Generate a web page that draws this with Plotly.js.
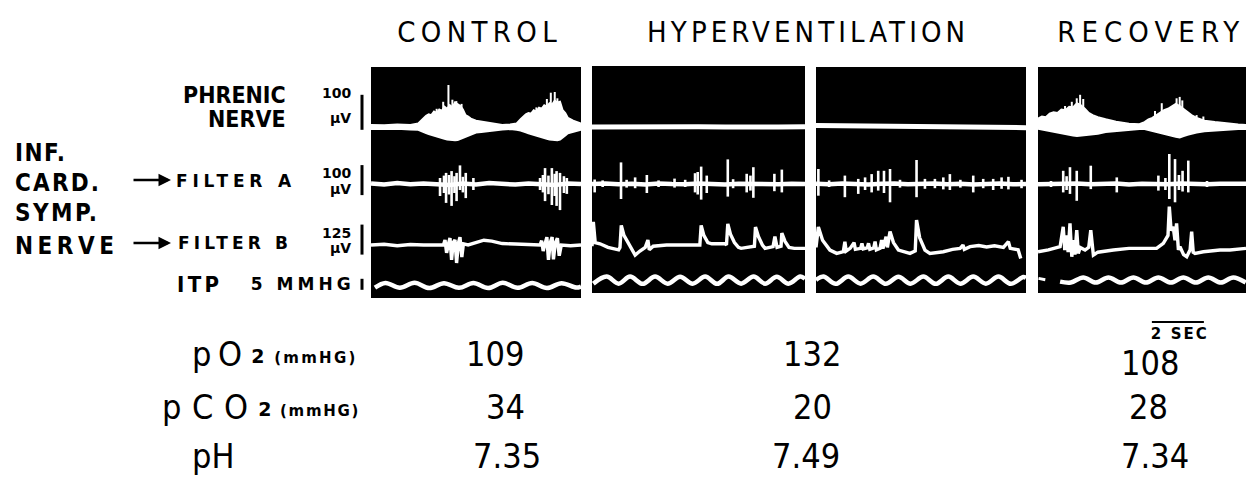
<!DOCTYPE html>
<html><head><meta charset="utf-8">
<script src="https://cdn.plot.ly/plotly-3.0.1.min.js"></script>
<style>html,body{margin:0;padding:0;background:#fff}#chart{width:1249px;height:487px}</style>
</head><body><div id="chart"></div>
<script>
// ---------------- DATA ----------------
// time in seconds within each panel (0..8 s), amplitude in µV (nerves) or mmHg (ITP)
const conditions = ['CONTROL', 'HYPERVENTILATION', 'RECOVERY'];
const channelLabels = ['PHRENIC', 'NERVE', 'INF.', 'CARD.', 'SYMP.', 'NERVE', 'FILTER A', 'FILTER B', 'ITP'];
const scaleLabels = ['100', 'µV', '100', 'µV', '125', 'µV', '5 MMHG'];
const scaleValues = [100, 100, 125, 5];   // µV, µV, µV, mmHg
const timeBarSec = 2;
const timeBarLabel = '2 SEC';
const gasRows = ['pO', 'pCO', 'pH'];
const gasSub = '2';
const gasUnit = '(mmHG)';
const pO2 = ['109', '132', '108'];
const pCO2 = ['34', '20', '28'];
const pH = ['7.35', '7.49', '7.34'];

// Phrenic nerve envelopes (upper / lower) – control
const phrCtrlT  = [0,0.5,1.0,1.5,1.8,1.9,2.0,2.1,2.2,2.3,2.4,2.5,2.6,2.7,2.8,2.9,3.0,3.1,3.2,3.3,3.4,3.5,3.6,3.7,3.8,4.0,4.2,4.4,4.7,5.0,5.3,5.55,5.7,5.8,5.9,6.0,6.1,6.2,6.3,6.4,6.5,6.6,6.7,6.8,6.9,7.0,7.1,7.2,7.3,7.4,7.5,7.7,7.9,8.0];
const phrCtrlUp = [6,5,7,6,10,18,26,32,36,34,44,40,50,46,58,52,62,56,70,64,60,50,34,30,24,18,16,14,9,6,7,10,22,30,36,40,38,48,44,55,52,62,58,68,64,75,70,72,48,40,26,18,14,10];
const phrCtrlLo = [-6,-6,-5,-7,-8,-11,-14,-17,-20,-23,-26,-28,-30,-32,-34,-36,-37,-38,-38,-37,-36,-32,-28,-25,-22,-16,-14,-12,-9,-7,-6,-8,-10,-12,-15,-18,-21,-24,-26,-28,-30,-32,-34,-36,-37,-38,-38,-36,-30,-24,-18,-14,-10,-8];
const phrCtrlSpkT = [2.5,2.75,2.95,3.1,3.25,3.45,6.3,6.7,6.85,7.0,7.1];
const phrCtrlSpkV = [52,72,120,78,74,66,56,80,98,100,82];
// Phrenic – hyperventilation (flat)
const phrHypT  = [0,1,2,3,4,5,6,7,8];
const phrHyp1V = [0,1,-1,0,1,0,-1,0,1];
const phrHyp2V = [4,3,3,2,1,0,-1,-2,-2];
// Phrenic – recovery
const phrRecT  = [0,0.15,0.3,0.45,0.6,0.75,0.9,1.05,1.2,1.35,1.5,1.65,1.8,1.95,2.1,2.3,2.6,3.0,3.5,3.9,4.1,4.25,4.4,4.55,4.7,4.85,5.0,5.15,5.3,5.45,5.6,5.75,5.9,6.1,6.4,6.8,7.3,7.7,8.0];
const phrRecUp = [24,30,28,38,42,40,50,48,58,56,68,62,52,40,34,28,22,15,9,8,14,22,26,34,40,48,52,58,66,60,52,44,34,26,18,14,9,7,6];
const phrRecLo = [-5,-8,-11,-13,-15,-17,-19,-20,-22,-24,-26,-25,-24,-22,-21,-19,-14,-11,-8,-6,-6,-8,-10,-13,-16,-19,-22,-25,-28,-30,-26,-22,-19,-16,-12,-10,-8,-6,-6];
const phrRecSpkT = [1.04,1.3,1.49,1.62,1.74,4.5,4.76,5.33,5.45,5.55,6.1,6.36];
const phrRecSpkV = [60,72,82,92,80,46,68,82,86,76,34,30];

// Filter A: baseline + spikes (up / down extents)
const faBaseT = [0,0.5,1,1.5,2,2.5,3,3.5,4,4.5,5,5.5,6,6.5,7,7.5,8];
const faBaseCtrl = [2,-2,3,-1,2,0,-3,2,-2,3,0,-2,2,0,-3,2,0];
const faBaseHyp1 = [0,2,-1,1,-2,2,0,-1,2,0,-2,1,0,2,-1,1,0];
const faBaseHyp2 = [1,-1,2,0,-2,1,2,-1,0,2,-1,1,-2,0,2,-1,0];
const faBaseRec  = [-1,1,0,2,-1,0,2,-2,1,0,-1,2,0,-1,1,0,1];
const faCtrlT  = [2.63,2.78,2.86,2.97,3.07,3.18,3.26,3.39,3.5,3.61,3.9,6.44,6.55,6.63,6.76,6.89,7.0,7.07,7.2,7.35,7.46];
const faCtrlUp = [20,28,37,30,43,26,37,62,24,37,20,20,30,53,28,53,34,43,37,26,20];
const faCtrlDn = [-40,-30,-63,-35,-73,-30,-57,-20,-28,-47,-20,-20,-28,-57,-34,-70,-40,-73,-87,-30,-33];
const faHyp1T  = [0.1,0.4,1.09,1.3,1.62,2.06,2.5,3.1,3.5,3.87,3.97,4.1,4.31,5.1,5.3,5.81,5.95,6.06,6.85,7.13];
const faHyp1Up = [15,12,72,14,22,30,12,18,14,36,40,58,28,82,16,34,28,56,34,48];
const faHyp1Dn = [-28,-10,-50,-12,-14,-30,-10,-12,-10,-28,-35,-52,-30,-42,-14,-28,-22,-46,-24,-28];
const faHyp2T  = [0.09,0.5,1.1,1.61,1.87,2.12,2.37,2.59,2.82,3.2,3.83,4.15,4.53,4.85,5.1,5.5,5.99,6.37,6.75,7.07,7.33,7.83];
const faHyp2Up = [50,12,28,17,22,33,44,44,50,14,80,17,17,22,33,14,28,17,17,22,24,14];
const faHyp2Dn = [-39,-10,-44,-33,-20,-28,-22,-30,-61,-12,-44,-16,-14,-18,-20,-12,-28,-14,-20,-16,-18,-14];
const faRecT  = [0.5,0.97,1.1,1.23,1.49,2.03,3.03,4.63,4.9,5.05,5.27,5.42,5.56,5.78,6.5];
const faRecUp = [10,44,26,56,44,61,22,28,20,100,83,30,44,78,10];
const faRecDn = [-10,-28,-20,-33,-56,-17,-28,-22,-20,-50,-61,-20,-25,-28,-10];

// Filter B: traced polylines
const fbCtrlT = [0,0.5,1.0,1.5,2.0,2.5,2.76,2.82,2.88,2.95,3.01,3.07,3.13,3.2,3.26,3.33,3.39,3.46,3.52,3.7,4.0,4.3,4.6,5.0,5.5,6.0,6.44,6.5,6.56,6.63,6.7,6.76,6.83,6.9,6.95,7.02,7.1,7.17,7.25,7.6,8.0];
const fbCtrlV = [0,3,-3,2,0,2,0,21,-33,5,29,-62,10,21,-75,8,33,-50,5,0,10,20,16,6,4,2,0,18,-25,5,33,-62,10,33,-60,8,28,-45,0,-3,0];
const fbHyp1T = [0,0.05,0.12,0.3,0.6,1.0,1.05,1.1,1.2,1.35,1.5,1.62,1.8,2.0,2.1,2.15,2.3,2.8,3.3,3.8,4.05,4.1,4.2,4.35,4.5,5.0,5.05,5.1,5.2,5.35,5.5,5.6,5.9,6.1,6.14,6.25,6.4,6.5,6.8,6.87,6.95,7.1,7.13,7.25,7.4,7.6,8.0];
const fbHyp1V = [-5,96,10,5,-10,-20,-10,82,40,10,-25,-42,-25,-10,21,-20,-5,0,0,2,0,82,40,10,5,5,0,88,45,10,-10,-14,-7,-5,75,35,0,-14,-7,35,-10,-5,50,15,-10,-14,-14];
const fbHyp2T = [0,0.05,0.09,0.25,0.53,0.79,1.04,1.1,1.15,1.3,1.45,1.5,1.7,1.75,1.8,1.95,2.0,2.05,2.2,2.25,2.3,2.44,2.5,2.55,2.67,2.72,2.82,2.95,3.14,3.58,3.78,3.83,3.95,4.15,4.34,4.85,5.2,5.49,5.6,5.65,5.87,6.2,6.5,6.8,7.14,7.33,7.4,7.7,7.77,7.8];
const fbHyp2V = [-10,40,75,20,-21,-35,-28,14,-25,-14,10,-18,-14,7,-16,-12,7,-18,-12,14,-20,-14,21,-15,35,-10,56,10,-21,-35,-25,104,30,-21,-35,-28,-18,-14,0,-18,-7,-2,-8,-3,-10,14,-14,-20,-56,-56];
const fbRecT = [0,0.4,0.85,0.97,1.03,1.1,1.16,1.23,1.3,1.36,1.42,1.49,1.55,1.62,1.81,1.95,2.03,2.13,2.3,2.51,2.9,3.5,4.0,4.56,4.82,5.0,5.05,5.12,5.2,5.27,5.33,5.4,5.46,5.6,5.72,5.85,5.91,5.97,6.04,6.36,7.0,7.38,8.0];
const fbRecV = [-28,-20,-7,76,-21,40,-30,90,-49,20,-40,62,-35,-10,-21,-10,62,-42,-30,-28,-21,-14,-14,-14,7,40,160,60,76,20,90,-20,-7,-40,-49,-20,56,-30,-35,-28,-21,-21,-14];

// Intrathoracic pressure (mmHg): peaks and troughs
const itpCtrlT = [0.15,0.55,1.1,1.66,2.22,2.78,3.35,3.9,4.46,5.02,5.58,6.14,6.7,7.26,7.82,8.0];
const itpCtrlV = [-3.0,-0.9,-3.1,-0.8,-3.2,-1.0,-3.1,-0.9,-3.2,-0.8,-3.1,-0.9,-3.2,-1.0,-3.0,-2.5];
const itpHyp1T = [0.05,0.55,1.0,1.43,1.9,2.37,2.84,3.31,3.78,4.25,4.7,5.13,5.6,6.07,6.5,6.94,7.38,7.82,8.0];
const itpHyp1V = [-1.2,2.0,-1.2,2.0,-1.3,2.0,-1.2,1.9,-1.2,2.0,-1.3,2.0,-1.2,2.0,-1.2,1.9,-1.2,2.0,1.0];
const itpHyp2T = [0.0,0.28,0.75,1.23,1.7,2.18,2.66,3.14,3.6,4.09,4.56,5.04,5.5,5.99,6.47,6.95,7.42,7.9,8.0];
const itpHyp2V = [0.5,2.0,-1.3,2.0,-1.2,2.0,-1.3,1.9,-1.2,2.0,-1.3,2.0,-1.2,2.0,-1.2,2.0,-1.3,1.8,1.5];
const itpRecDashT = [0.02,0.28];
const itpRecDashV = [1.2,0.6];
const itpRecT = [0.85,1.26,1.74,2.22,2.71,3.19,3.67,4.15,4.63,5.11,5.59,6.07,6.55,7.03,7.51,7.99];
const itpRecV = [-0.3,-0.7,1.6,-0.7,1.6,-0.7,1.6,-0.7,1.6,-0.7,1.6,-0.7,1.6,-0.7,1.6,-0.7];

// ---------------- LAYOUT GEOMETRY (pixels) ----------------
const W = 1249, H = 487;
const px = v => v / W, py = v => 1 - v / H;
const panels = [
  {x0:371, x1:581, y0:67, y1:298},
  {x0:592, x1:805, y0:66, y1:293},
  {x0:816, x1:1026, y0:67, y1:293},
  {x0:1038, x1:1246, y0:67, y1:293}
];
const channels = [
  {top:55, bottom:165, base:127, s:0.35},
  {top:140, bottom:225, base:184, s:0.30},
  {top:195, bottom:275, base:245, s:0.24},
  {top:262, bottom:298, base:281, s:2.2}
];
const xa = p => p === 0 ? 'x' : 'x' + (p + 1);
const ya = c => c === 0 ? 'y' : 'y' + (c + 1);
const WHITE = '#ffffff';

const traces = [];
function line(p, c, x, y, w, shape) {
  traces.push({x, y, xaxis: xa(p), yaxis: ya(c), type:'scatter', mode:'lines',
    line:{color:WHITE, width:w, shape: shape || 'linear', smoothing: 1}, hoverinfo:'skip', showlegend:false});
}
function envelope(p, t, up, lo) {
  traces.push({x: t.concat(t.slice().reverse()), y: up.concat(lo.slice().reverse()),
    xaxis: xa(p), yaxis: ya(0), type:'scatter', mode:'lines', fill:'toself', fillcolor:WHITE,
    line:{color:WHITE, width:2}, hoverinfo:'skip', showlegend:false});
}
function spikes(p, c, t, up, dn, w) {
  const x = [], y = [];
  t.forEach((v, i) => { x.push(v, v, null); y.push(dn ? dn[i] : 0, up[i], null); });
  line(p, c, x, y, w);
}
envelope(0, phrCtrlT, phrCtrlUp, phrCtrlLo); spikes(0, 0, phrCtrlSpkT, phrCtrlSpkV, null, 2);
line(1, 0, phrHypT, phrHyp1V, 5); line(2, 0, phrHypT, phrHyp2V, 5);
envelope(3, phrRecT, phrRecUp, phrRecLo); spikes(3, 0, phrRecSpkT, phrRecSpkV, null, 2);
[[faBaseCtrl, faCtrlT, faCtrlUp, faCtrlDn],[faBaseHyp1, faHyp1T, faHyp1Up, faHyp1Dn],
 [faBaseHyp2, faHyp2T, faHyp2Up, faHyp2Dn],[faBaseRec, faRecT, faRecUp, faRecDn]].forEach((d, p) => {
  line(p, 1, faBaseT, d[0], 4.5); spikes(p, 1, d[1], d[2], d[3], 2.6);
});
[[fbCtrlT, fbCtrlV],[fbHyp1T, fbHyp1V],[fbHyp2T, fbHyp2V],[fbRecT, fbRecV]].forEach((d, p) => line(p, 2, d[0], d[1], 3.4));
[[itpCtrlT, itpCtrlV],[itpHyp1T, itpHyp1V],[itpHyp2T, itpHyp2V],[itpRecT, itpRecV]].forEach((d, p) => line(p, 3, d[0], d[1], 4.5, 'spline'));
line(3, 3, itpRecDashT, itpRecDashV, 3);

const layout = {width: W, height: H, margin:{l:0, r:0, t:0, b:0}, paper_bgcolor:'#fff', plot_bgcolor:'rgba(0,0,0,0)',
  showlegend:false, shapes:[], annotations:[], hovermode:false};
panels.forEach((P, p) => {
  layout[p === 0 ? 'xaxis' : 'xaxis' + (p + 1)] = {domain:[px(P.x0), px(P.x1)], range:[0, 8], visible:false, fixedrange:true};
  layout.shapes.push({type:'rect', xref:'paper', yref:'paper', x0:px(P.x0), x1:px(P.x1), y0:py(P.y1), y1:py(P.y0),
    fillcolor:'#000', line:{width:0}, layer:'below'});
});
channels.forEach((C, c) => {
  layout[c === 0 ? 'yaxis' : 'yaxis' + (c + 1)] = {domain:[py(C.bottom), py(C.top)],
    range:[-(C.bottom - C.base) / C.s, (C.base - C.top) / C.s], visible:false, fixedrange:true};
});
const barOffsets = [-8, -37, -40, -4];
channels.forEach((C, c) => {
  layout.shapes.push({type:'line', xref:'paper', yref: ya(c), x0:px(362), x1:px(362),
    y0: barOffsets[c], y1: barOffsets[c] + scaleValues[c], line:{color:'#000', width:3}});
});
layout.shapes.push({type:'line', xref:'x4', yref:'paper', x0:4.38, x1:4.38 + timeBarSec, y0:py(322), y1:py(322), line:{color:'#000', width:2}});

// text helpers; target widths (px) are reached with letter-spacing after drawing
const targets = {};
const COND = 'DejaVu Sans Condensed, DejaVu Sans';
function A(text, x, y, font, opts, targetW) {
  const o = Object.assign({text, x:px(x), y:py(y), xref:'paper', yref:'paper', showarrow:false,
    xanchor:'center', yanchor:'middle', font:Object.assign({family:COND, color:'#000'}, font)}, opts || {});
  if (targetW) targets[layout.annotations.length] = {w: targetW, anchor: o.xanchor};
  layout.annotations.push(o);
}
const titleX = [477, 806, 1148], titleW = [160, 318, 183];
conditions.forEach((t, i) => A(t, titleX[i], 32, {size:29}, null, titleW[i]));
const B = s => ({size:s, weight:'bold'});
const BW = s => ({size:s, weight:'bold', family:'DejaVu Sans'});
A(channelLabels[0], 288, 95, B(23), {xanchor:'right'});
A(channelLabels[1], 288, 119, B(23), {xanchor:'right'});
A(channelLabels[2], 13, 153, B(24), {xanchor:'left'}, 50);
A(channelLabels[3], 13, 183, B(24), {xanchor:'left'}, 84);
A(channelLabels[4], 13, 213, B(24), {xanchor:'left'}, 82);
A(channelLabels[5], 13, 246, B(24), {xanchor:'left'}, 99);
A(channelLabels[6], 174, 181, BW(17), {xanchor:'left'}, 116);
A(channelLabels[7], 176, 243, BW(17), {xanchor:'left'}, 110);
A(channelLabels[8], 175, 284, B(22), {xanchor:'left'}, 42);
A(scaleLabels[6], 353, 284, BW(17), {xanchor:'right'}, 100);
[180, 243].forEach(y => layout.annotations.push({text:'', x:px(171), y:py(y), xref:'paper', yref:'paper', showarrow:true,
  ax:-39, ay:0, arrowhead:2, arrowsize:1, arrowwidth:2.5, arrowcolor:'#000'}));
const calY = [[93, 118], [173, 189], [233, 248]];
calY.forEach((yy, i) => {
  A(scaleLabels[2*i], 336, yy[0], BW(14));
  A(scaleLabels[2*i+1], 340, yy[1], BW(14));
});
A(timeBarLabel, 1179, 334, BW(15), null, 56);
// gas table: big symbol + small bold subscript/unit
const unitTxt = '<span style="font-size:19px">' + gasSub + '</span> ' + gasUnit;
A(gasRows[0], 190, 354, {size:34}, {xanchor:'left'}, 50);
A(unitTxt, 357, 356, BW(15), {xanchor:'right'}, 104);
A(gasRows[1], 160, 407, {size:34}, {xanchor:'left'}, 86);
A(unitTxt, 360, 409, BW(15), {xanchor:'right'}, 100);
A(gasRows[2], 190, 456, {size:34}, {xanchor:'left'});
const colX = [[495, 812, 1150], [505, 812, 1148], [507, 806, 1155]];
const colY = [[354, 354, 363], [407, 407, 407], [456, 456, 456]];
[pO2, pCO2, pH].forEach((row, r) => row.forEach((v, i) => A(v, colX[r][i], colY[r][i], {size:34})));

Plotly.newPlot('chart', traces, layout, {staticPlot:true, displayModeBar:false}).then(() => {
  document.querySelectorAll('g.annotation').forEach(g => {
    const idx = +g.getAttribute('data-index');
    const tg = targets[idx];
    const el = g.querySelector('.annotation-text');
    if (!tg || !el) return;
    const t = el.textContent;
    const b0 = el.getBoundingClientRect();
    const ls = Math.max(0, (tg.w - b0.width) / Math.max(1, t.length - 1));
    el.style.letterSpacing = ls + 'px';
    const b1 = el.getBoundingClientRect();
    let dx;
    if (tg.anchor === 'left') dx = b0.left - b1.left;
    else if (tg.anchor === 'right') dx = b0.right - (b1.right - ls);
    else dx = (b0.left + b0.right) / 2 - (b1.left + b1.right - ls) / 2;
    el.style.transform = 'translateX(' + dx + 'px)';
  });
});
</script></body></html>
